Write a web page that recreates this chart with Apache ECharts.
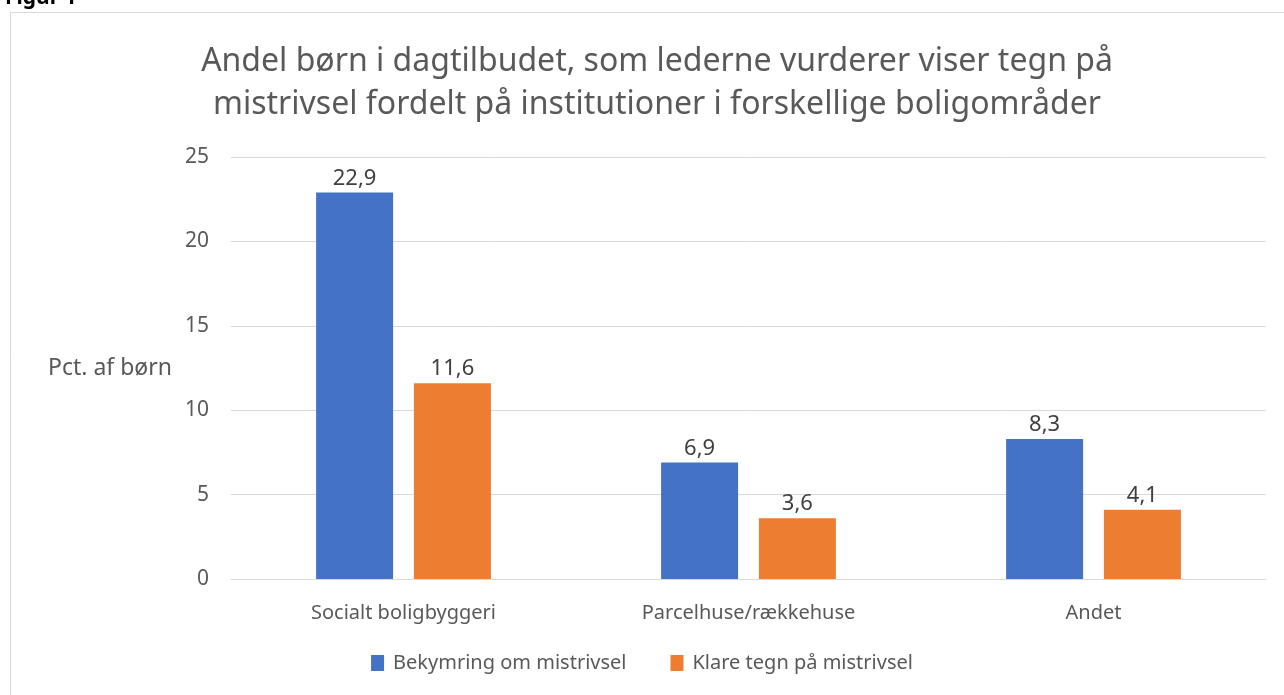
<!DOCTYPE html>
<html>
<head>
<meta charset="utf-8">
<script src="https://cdn.jsdelivr.net/npm/echarts@6/dist/echarts.min.js"></script>
<style>
  html, body { margin: 0; padding: 0; background: #fff; }
  #chart { width: 1284px; height: 695px; }
</style>
</head>
<body>
<div id="chart"></div>
<script>
const categories = ['Socialt boligbyggeri', 'Parcelhuse/rækkehuse', 'Andet']
const bekymring = [22.9, 6.9, 8.3]
const klareTegn = [11.6, 3.6, 4.1]
const seriesNames = ['Bekymring om mistrivsel', 'Klare tegn på mistrivsel']
const titleText = 'Andel børn i dagtilbudet, som lederne vurderer viser tegn på\nmistrivsel fordelt på institutioner i forskellige boligområder'

const font = 'Noto Sans'
const chart = echarts.init(document.getElementById('chart'))

// decimal comma like the original
const fmt = (p) => String(p.value).replace('.', ',')

chart.setOption({
    backgroundColor: '#fff',
    animation: false,
    textStyle: { fontFamily: font },
    title: [{
        text: titleText,
        left: 652,
        top: 35,
        textAlign: 'center',
        textStyle: { fontSize: 32, fontWeight: 'normal', color: '#595959', lineHeight: 43, fontFamily: font }
    }, {
        text: 'Figur 1',
        left: 0,
        top: -17,
        textStyle: { fontSize: 21, fontWeight: 'bold', color: '#000', fontFamily: font }
    }],
    graphic: [{
        type: 'rect',
        shape: { x: 10.5, y: 12.5, width: 1300, height: 700 },
        style: { fill: 'none', stroke: '#d9d9d9', lineWidth: 1 },
        silent: true
    }],
    legend: {
        data: seriesNames,
        bottom: 17,
        left: 'center',
        itemWidth: 13,
        itemHeight: 16,
        itemGap: 44,
        icon: 'rect',
        textStyle: { fontSize: 20, color: '#595959', fontFamily: font, padding: [0, 0, 0, 4] }
    },
    grid: { left: 231, right: 18, top: 157, bottom: 116 },
    xAxis: {
        type: 'category',
        data: categories,
        axisLine: { lineStyle: { color: '#d9d9d9' } },
        axisTick: { show: false },
        axisLabel: { fontSize: 20, color: '#595959', margin: 24, fontFamily: font }
    },
    yAxis: {
        type: 'value',
        min: 0,
        max: 25,
        interval: 5,
        name: 'Pct. af børn',
        nameLocation: 'middle',
        nameRotate: 0,
        nameGap: 59,
        nameTextStyle: { fontSize: 23, color: '#595959', align: 'right', fontFamily: font },
        axisLabel: { fontSize: 21, color: '#595959', margin: 22, fontFamily: font },
        splitLine: { lineStyle: { color: '#d9d9d9' } }
    },
    series: [{
        name: seriesNames[0],
        type: 'bar',
        data: bekymring,
        barWidth: 77,
        barGap: '27%',
        itemStyle: { color: '#4472C4' },
        label: { show: true, position: 'top', distance: 3, fontSize: 22, color: '#404040', formatter: fmt, fontFamily: font }
    }, {
        name: seriesNames[1],
        type: 'bar',
        data: klareTegn,
        barWidth: 77,
        itemStyle: { color: '#ED7D31' },
        label: { show: true, position: 'top', distance: 3, fontSize: 22, color: '#404040', formatter: fmt, fontFamily: font }
    }]
})
</script>
</body>
</html>
